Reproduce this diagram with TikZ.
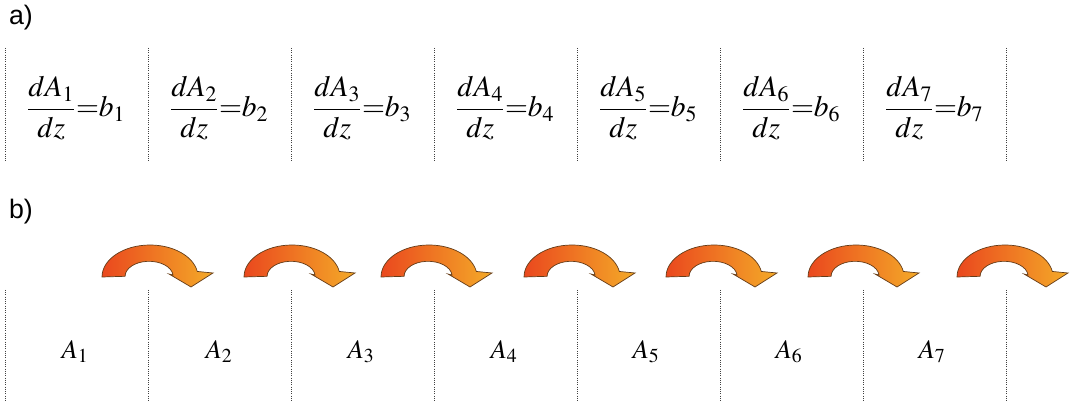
\documentclass[tikz,border=0pt]{standalone}
\usepackage{amsmath}
\usepackage{mathptmx}
\usepackage[no-math]{fontspec}
\setsansfont{Liberation Sans}
\usetikzlibrary{positioning}

\definecolor{arrowred}{RGB}{234,72,30}
\definecolor{arrowyellow}{RGB}{250,212,45}
\definecolor{arroworange}{RGB}{244,170,40}
\definecolor{arrowline}{RGB}{100,60,25}

\tikzset{
  cellsep/.style={densely dotted, line width=0.6pt, draw=black!75},
  partlabel/.style={font=\sffamily\fontsize{19}{22}\selectfont, inner sep=0pt},
  eqlabel/.style={font=\fontsize{21}{25}\selectfont, inner sep=0pt},
  celllabel/.style={font=\fontsize{19}{23}\selectfont, inner sep=0pt},
  turnarrow/.pic={
    \path[draw=arrowline, line width=0.5pt, left color=arrowred, middle color=arrowyellow, right color=arroworange]
      (-48,0) arc[start angle=180, end angle=350, x radius=48, y radius=32]
      -- (63,-4) -- (41,10) -- (19,-3) -- (23,-2)
      arc[start angle=355, end angle=180, x radius=24, y radius=15] -- cycle;
  }
}

\begin{document}
\begin{tikzpicture}[x=0.025cm, y=-0.025cm]
\useasboundingbox (0,0) rectangle (1070,405);

% part a)
\node[partlabel] (parta) at (21,18) {a)};
\foreach \x in {5,148,291,434,577,720,863,1006}
  \draw[cellsep] (\x,48) -- (\x,161);

\node[eqlabel] (eq1) at (76,108) {$\dfrac{dA_1}{dz}{=}b_1$};
\node[eqlabel] (eq2) at (219,108) {$\dfrac{dA_2}{dz}{=}b_2$};
\node[eqlabel] (eq3) at (362,108) {$\dfrac{dA_3}{dz}{=}b_3$};
\node[eqlabel] (eq4) at (505,108) {$\dfrac{dA_4}{dz}{=}b_4$};
\node[eqlabel] (eq5) at (648,108) {$\dfrac{dA_5}{dz}{=}b_5$};
\node[eqlabel] (eq6) at (791,108) {$\dfrac{dA_6}{dz}{=}b_6$};
\node[eqlabel] (eq7) at (934,108) {$\dfrac{dA_7}{dz}{=}b_7$};

% part b)
\node[partlabel] (partb) at (21,212) {b)};
\foreach \x in {5,148,291,434,577,720,863,1006}
  \draw[cellsep] (\x,290) -- (\x,402);

\foreach \x in {150,292,429,572,714,856,1005}
  \pic at (\x,277) {turnarrow};

\node[celllabel] (cellA1) at (75,352) {$A_1$};
\node[celllabel] (cellA2) at (219,352) {$A_2$};
\node[celllabel] (cellA3) at (361,352) {$A_3$};
\node[celllabel] (cellA4) at (504,352) {$A_4$};
\node[celllabel] (cellA5) at (646,352) {$A_5$};
\node[celllabel] (cellA6) at (789,352) {$A_6$};
\node[celllabel] (cellA7) at (932,352) {$A_7$};

\end{tikzpicture}
\end{document}
